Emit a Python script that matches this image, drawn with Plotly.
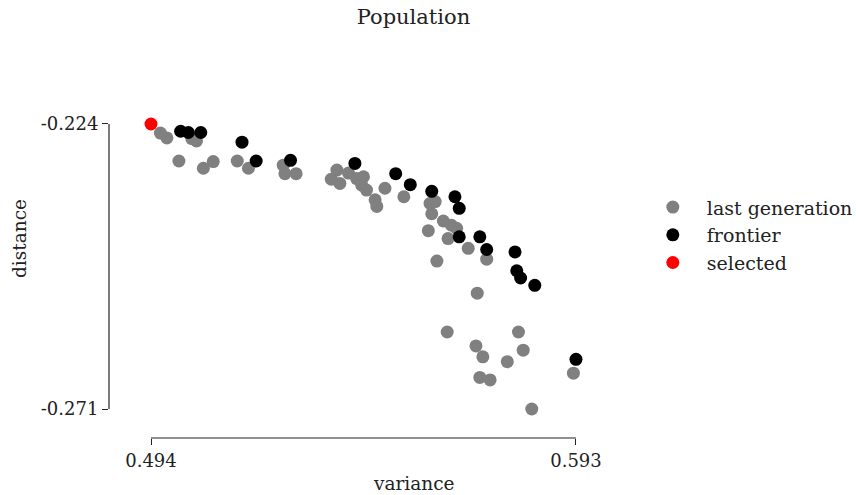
import plotly.graph_objects as go

# last generation (variance, distance)
gen_x = [0.4962, 0.4977, 0.5035, 0.5046, 0.5005, 0.5062, 0.5085, 0.5141, 0.5167, 0.5248,
         0.5252, 0.5278, 0.5373, 0.5360, 0.5380, 0.5400, 0.5419, 0.5435, 0.5431, 0.5442,
         0.5462, 0.5466, 0.5485, 0.5529, 0.5590, 0.5602, 0.5594, 0.5621, 0.5640, 0.5652,
         0.5586, 0.5632, 0.5679, 0.5722, 0.5606, 0.5700, 0.5630, 0.5697, 0.5713, 0.5796,
         0.5807, 0.5770, 0.5706, 0.5730, 0.5827, 0.5924]
gen_y = [-0.2255, -0.2263, -0.2264, -0.2268, -0.2301, -0.2313, -0.2302, -0.2301, -0.2313, -0.2308,
         -0.2322, -0.2322, -0.2316, -0.2331, -0.2338, -0.2321, -0.2330, -0.2327, -0.2341, -0.2349,
         -0.2365, -0.2376, -0.2346, -0.2360, -0.2371, -0.2368, -0.2388, -0.2400, -0.2407, -0.2412,
         -0.2416, -0.2429, -0.2445, -0.2463, -0.2466, -0.2519, -0.2583, -0.2606, -0.2624, -0.2583,
         -0.2613, -0.2632, -0.2658, -0.2662, -0.2710, -0.2651]

# frontier
front_x = [0.5009, 0.5027, 0.5056, 0.5152, 0.5185, 0.5265, 0.5415, 0.5510, 0.5544, 0.5594,
           0.5648, 0.5658, 0.5658, 0.5706, 0.5722, 0.5788, 0.5792, 0.5801, 0.5834, 0.5930]
front_y = [-0.2252, -0.2254, -0.2254, -0.2270, -0.2301, -0.2300, -0.2305, -0.2322, -0.2340, -0.2351,
           -0.2360, -0.2379, -0.2426, -0.2426, -0.2447, -0.2451, -0.2482, -0.2494, -0.2506, -0.2628]

# selected
sel_x = [0.494]
sel_y = [-0.224]

x_ticks = [0.494, 0.593]
x_ticklabels = ["0.494", "0.593"]
y_ticks = [-0.224, -0.271]
y_ticklabels = ["-0.224", "-0.271"]

FONT = "DejaVu Serif"
INK = "#222222"
MS = 13

fig = go.Figure()
fig.add_trace(go.Scatter(x=gen_x, y=gen_y, mode="markers", name="last generation",
                         legendgroup="a",
                         marker=dict(color="#808080", size=MS, line=dict(width=0))))
fig.add_trace(go.Scatter(x=front_x, y=front_y, mode="markers", name="frontier",
                         legendgroup="b",
                         marker=dict(color="#000000", size=MS, line=dict(width=0))))
fig.add_trace(go.Scatter(x=sel_x, y=sel_y, mode="markers", name="selected",
                         legendgroup="c",
                         marker=dict(color="#ff0000", size=MS, line=dict(width=0))))

fig.update_layout(
    width=856, height=495,
    margin=dict(l=109, r=138, t=40, b=57, autoexpand=False),
    paper_bgcolor="white", plot_bgcolor="white",
    font=dict(family=FONT, size=18, color=INK),
    title=dict(text="Population", x=0.483, xanchor="center", y=1 - 17 / 495,
               yanchor="middle", font=dict(family=FONT, size=21, color=INK)),
    showlegend=True,
    legend=dict(x=0.870, y=0.6275, xanchor="left", yanchor="top",
                font=dict(family=FONT, size=19, color=INK),
                bgcolor="rgba(0,0,0,0)", traceorder="grouped", tracegroupgap=0,
                itemwidth=58),
    xaxis=dict(range=[0.484217, 0.62608], showgrid=False, zeroline=False, showline=False,
               tickmode="array", tickvals=x_ticks, ticktext=x_ticklabels,
               ticks="outside", ticklen=6, tickcolor=INK, tickwidth=1.2,
               tickfont=dict(family=FONT, size=18, color=INK)),
    yaxis=dict(range=[-0.275782, -0.21015], showgrid=False, zeroline=False, showline=False,
               tickmode="array", tickvals=y_ticks, ticktext=y_ticklabels,
               ticks="outside", ticklen=6, tickcolor=INK, tickwidth=1.2,
               tickfont=dict(family=FONT, size=18, color=INK)),
)

# trimmed spines
fig.add_shape(type="line", xref="x", yref="paper", x0=x_ticks[0], x1=x_ticks[-1], y0=0, y1=0,
              line=dict(color=INK, width=1.2))
fig.add_shape(type="line", xref="paper", yref="y", x0=0, x1=0, y0=y_ticks[0], y1=y_ticks[-1],
              line=dict(color=INK, width=1.2))

# axis titles
fig.add_annotation(text="variance", xref="paper", yref="paper", x=0.5, y=0, yshift=-45,
                   showarrow=False, xanchor="center", yanchor="middle",
                   font=dict(family=FONT, size=18.5, color=INK))
fig.add_annotation(text="distance", xref="paper", yref="paper", x=0, y=0.5, xshift=-90,
                   showarrow=False, xanchor="center", yanchor="middle", textangle=-90,
                   font=dict(family=FONT, size=18.5, color=INK))

fig.write_html("out.html", config={"displayModeBar": False},
               post_script="document.body.style.margin='0';")
